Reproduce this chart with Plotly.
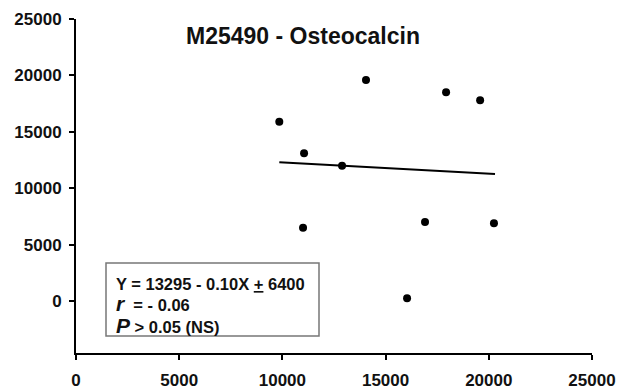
import plotly.graph_objects as go

# Data
x_vals = [9850, 11050, 14050, 17930, 19580, 12890, 11000, 16910, 20250, 16040]
y_vals = [15900, 13100, 19600, 18500, 17800, 12000, 6500, 7000, 6900, 250]

# Regression line: Y = 13295 - 0.10 X
intercept = 13295
slope = -0.10
line_x = [9850, 20300]
line_y = [intercept + slope * v for v in line_x]

tick_vals = [0, 5000, 10000, 15000, 20000, 25000]
tick_text = ["0", "5000", "10000", "15000", "20000", "25000"]

title_text = "M25490 - Osteocalcin"
stats_lines = ["Y = 13295 - 0.10X <u>+</u> 6400",
               "<i><span style='font-size:21px'>r</span></i>  = - 0.06",
               "<i><span style='font-size:21px'>P</span></i> > 0.05 (NS)"]

font_family = "Liberation Sans, Arial, sans-serif"

PL, PT, PW, PH = 76, 19, 516, 334  # plot area in pixels


def px(x):
    return (x - PL) / PW


def py(y):
    return (PT + PH - y) / PH


fig = go.Figure()
fig.add_trace(go.Scatter(x=line_x, y=line_y, mode="lines",
                         line=dict(color="black", width=2), showlegend=False))
fig.add_trace(go.Scatter(x=x_vals, y=y_vals, mode="markers",
                         marker=dict(color="black", size=8), showlegend=False))

fig.update_layout(
    width=619, height=389,
    margin=dict(l=76, r=27, t=19, b=36, autoexpand=False),
    paper_bgcolor="white", plot_bgcolor="white",
    font=dict(family=font_family, color="#111"),
    xaxis=dict(range=[0, 25000], tickvals=tick_vals, ticktext=tick_text,
               automargin=False,
               showgrid=False, zeroline=False, showline=True,
               linecolor="black", linewidth=2, ticks="outside",
               ticklen=5, tickwidth=2, tickcolor="black",
               tickfont=dict(size=17, family=font_family, weight="bold", color="#111"),
               ticklabelstandoff=6),
    yaxis=dict(range=[-4600, 25000], tickvals=tick_vals, ticktext=tick_text,
               automargin=False,
               showgrid=False, zeroline=False, showline=True,
               linecolor="black", linewidth=2, ticks="outside",
               ticklen=5, tickwidth=2, tickcolor="black",
               tickfont=dict(size=17, family=font_family, weight="bold", color="#111"),
               ticklabelstandoff=4),
)

fig.add_shape(type="rect", xref="paper", yref="paper",
              x0=px(106), x1=px(319), y0=py(336), y1=py(263),
              line=dict(color="#777", width=1.5), fillcolor="rgba(0,0,0,0)")

fig.add_annotation(x=px(114), y=py(306), xref="paper", yref="paper",
                   text="<b>" + "<br>".join(stats_lines) + "</b>", showarrow=False,
                   xanchor="left", yanchor="middle", align="left",
                   font=dict(size=16.5, family=font_family, color="#111"))

fig.add_annotation(x=px(303), y=py(36), xref="paper", yref="paper",
                   showarrow=False, xanchor="center", yanchor="middle",
                   text="<b>" + title_text + "</b>",
                   font=dict(size=23, family=font_family, color="#111"))

fig.write_html("out.html", config={"displayModeBar": False},
               post_script="document.body.style.margin='0';document.body.style.overflow='hidden';")
